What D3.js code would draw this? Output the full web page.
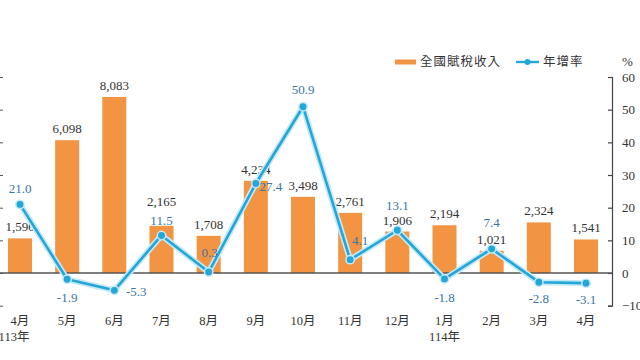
<!DOCTYPE html>
<html>
<head>
<meta charset="utf-8">
<script src="https://cdn.jsdelivr.net/npm/d3@7"></script>
<style>
  html, body { margin: 0; padding: 0; background: #fff; }
  svg { display: block; }
  text { font-family: "Liberation Serif", "Noto Sans CJK TC", serif; }
</style>
</head>
<body>
<script>
// data
const months = ["4月", "5月", "6月", "7月", "8月", "9月", "10月", "11月", "12月", "1月", "2月", "3月", "4月"];
const yearLabels = [{ i: 0, label: "113年" }, { i: 9, label: "114年" }];
const taxRevenue = [1590, 6098, 8083, 2165, 1708, 4234, 3498, 2761, 1906, 2194, 1021, 2324, 1541];
const growthRate = [21.0, -1.9, -5.3, 11.5, 0.3, 27.4, 50.9, 4.1, 13.1, -1.8, 7.4, -2.8, -3.1];
const leftTicks = [-1500, 0, 1500, 3000, 4500, 6000, 7500, 9000];
const rightTicks = [-10, 0, 10, 20, 30, 40, 50, 60];

// label placement for the growth values (dx, dy from the point)
const growthLabelPos = [
  [0, -16], [0, 18], [22, 1], [0, -15], [1, -20], [15, 3], [0, -17],
  [10, -19], [0, -25], [0, 19], [0, -26], [0, 16], [0, 16]
];
// extra lift for a bar label that would sit on a growth label
const barLabelLift = [0, 0, 0, 13, 0, 0, 0, 0, 0, 0, 0, 0, 0];

const width = 640, height = 360;
const orange = "#f29442", blue = "#23a6d8", labelBlue = "#3a75a6";

const svg = d3.select("body").append("svg")
  .attr("width", width)
  .attr("height", height);

const idx = d3.range(months.length);
const x = d3.scalePoint().domain(idx).range([20, 586]);
const barW = 24;

const yL = d3.scaleLinear().domain([-1500, 9000]).range([305.7, 77]);
const yR = d3.scaleLinear().domain([-10, 60]).range([305.7, 77]);

// left axis (labels sit outside the view)
svg.append("g")
  .attr("transform", "translate(-1,0)")
  .call(d3.axisLeft(yL).tickValues(leftTicks).tickSizeInner(-4).tickSizeOuter(0))
  .call(g => g.selectAll("line, path").attr("stroke", "#555"));

// right axis
const gR = svg.append("g")
  .attr("transform", "translate(612,0)")
  .call(d3.axisRight(yR).tickValues(rightTicks).tickSizeInner(-4).tickSizeOuter(-4).tickPadding(10));
gR.selectAll("line, path").attr("stroke", "#444").attr("stroke-width", 1.2);
gR.selectAll("text")
  .attr("fill", "#333")
  .style("font-size", "13px");

svg.append("text")
  .attr("x", 622).attr("y", 66)
  .attr("fill", "#333")
  .style("font-size", "13px")
  .text("%");

// bars
svg.append("g").selectAll("rect")
  .data(taxRevenue)
  .join("rect")
  .attr("x", (d, i) => x(i) - barW / 2)
  .attr("width", barW)
  .attr("y", d => yL(d))
  .attr("height", d => yL(0) - yL(d))
  .attr("fill", orange);

// zero line
svg.append("line")
  .attr("x1", 0).attr("x2", 612)
  .attr("y1", yL(0)).attr("y2", yL(0))
  .attr("stroke", "#555")
  .attr("stroke-width", 1.6);

// bar value labels
svg.append("g").selectAll("text")
  .data(taxRevenue)
  .join("text")
  .attr("x", (d, i) => x(i))
  .attr("y", (d, i) => yL(d) - 7 - barLabelLift[i])
  .attr("text-anchor", "middle")
  .attr("fill", "#333")
  .style("font-size", "13px")
  .text(d => d3.format(",")(d));

// growth line
const line = d3.line()
  .x((d, i) => x(i))
  .y(d => yR(d));

svg.append("path")
  .datum(growthRate)
  .attr("d", line)
  .attr("fill", "none")
  .attr("stroke", "#c5e9f7")
  .attr("stroke-width", 6)
  .attr("stroke-linejoin", "round");

svg.append("path")
  .datum(growthRate)
  .attr("d", line)
  .attr("fill", "none")
  .attr("stroke", blue)
  .attr("stroke-width", 2.6)
  .attr("stroke-linejoin", "round");

svg.append("g").selectAll("circle")
  .data(growthRate)
  .join("circle")
  .attr("cx", (d, i) => x(i))
  .attr("cy", d => yR(d))
  .attr("r", 4.2)
  .attr("fill", blue)
  .attr("stroke", "#c5e9f7")
  .attr("stroke-width", 1.5);

// growth labels
svg.append("g").selectAll("text")
  .data(growthRate)
  .join("text")
  .attr("x", (d, i) => x(i) + growthLabelPos[i][0])
  .attr("y", (d, i) => yR(d) + growthLabelPos[i][1])
  .attr("dy", "0.35em")
  .attr("text-anchor", "middle")
  .attr("fill", labelBlue)
  .style("font-size", "13px")
  .text(d => d.toFixed(1));

// month labels
svg.append("g").selectAll("text")
  .data(months)
  .join("text")
  .attr("x", (d, i) => x(i))
  .attr("y", 321)
  .attr("dy", "0.35em")
  .attr("text-anchor", "middle")
  .attr("fill", "#333")
  .style("font-size", "12.5px")
  .text(d => d);

svg.append("g").selectAll("text")
  .data(yearLabels)
  .join("text")
  .attr("x", d => x(d.i) - (d.i === 0 ? 6 : 0))
  .attr("y", 337)
  .attr("dy", "0.35em")
  .attr("text-anchor", "middle")
  .attr("fill", "#333")
  .style("font-size", "12.5px")
  .text(d => d.label);

// legend
const legend = svg.append("g").style("font-size", "12.5px");
legend.append("rect")
  .attr("x", 395).attr("y", 59.5)
  .attr("width", 21).attr("height", 5)
  .attr("fill", orange);
legend.append("text")
  .attr("x", 420).attr("y", 62).attr("dy", "0.35em")
  .attr("fill", "#333")
  .style("letter-spacing", "1px")
  .text("全國賦稅收入");
legend.append("line")
  .attr("x1", 516).attr("x2", 539)
  .attr("y1", 62).attr("y2", 62)
  .attr("stroke", blue).attr("stroke-width", 2.4);
legend.append("circle")
  .attr("cx", 527.5).attr("cy", 62).attr("r", 3)
  .attr("fill", blue);
legend.append("text")
  .attr("x", 543).attr("y", 62).attr("dy", "0.35em")
  .attr("fill", "#333")
  .style("letter-spacing", "1px")
  .text("年增率");
</script>
</body>
</html>
